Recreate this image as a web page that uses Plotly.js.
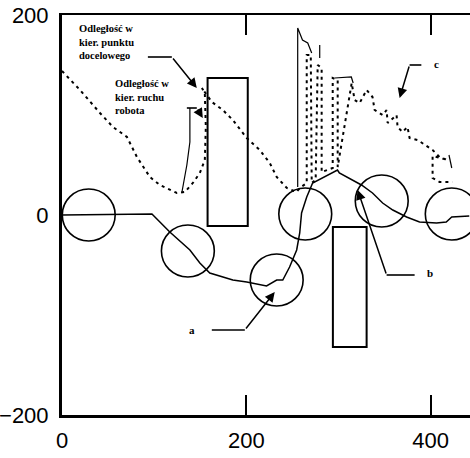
<!DOCTYPE html>
<html>
<head>
<meta charset="utf-8">
<script src="https://cdn.plot.ly/plotly-3.0.1.min.js"></script>
<style>html,body{margin:0;padding:0;background:#fff;}#chart{width:470px;height:458px;}</style>
</head>
<body>
<div id="chart"></div>
<script>
// Robot trajectory (solid)
const trajX = [0, 97.6, 117, 138.8, 149.6, 160.4, 185.4, 200.5, 222, 228.7, 233, 239.6, 247, 254.7, 258, 260, 265.6, 272, 283, 299, 301, 315.4, 325, 337, 348, 359, 374, 388, 406.5, 417, 423, 442];
const trajY = [0, 1, -17, -35, -48, -58, -65, -67, -71, -67, -65, -65, -52, -35, -18, 2, 18, 32, 37, 45, 42, 35, 30, 22, 12, 5, -2, -7, -8, -7, -2, -1];

// Distance towards target point (dotted)
const targetX = [0, 19.5, 41.2, 55.3, 70.5, 81.3, 95.4, 106.2, 124.7, 133.3, 142, 149.6, 155, 156.1, 155, 151.8, 162.6, 174.5, 185.4, 200.5, 214.6, 225.5, 233, 244,
  254.7, 258, 265.6, 265.6, 270, 271, 275.3, 277.5, 281.8, 281.8, 293.8, 293.8, 299.2, 299.2, 314.4, 317.6, 323, 330.6, 337, 339.3, 348, 352.3, 353.4, 363.1, 364.2, 369.6, 375, 377.2, 386, 393.5, 402.2, 409.8, 418.4, 402.2, 402.2, 409.8, 423.8];
const targetY = [144, 125, 102, 88, 78, 58, 38, 30, 22, 23, 32, 42, 55, 88, 122, 127, 113, 105, 95, 77, 65, 52, 38, 27,
  23, 27, 32, 160, 160, 32, 35, 150, 147, 43, 47, 137, 135, 48, 132, 115, 112, 125, 118, 105, 100, 105, 92, 100, 88, 83, 88, 77, 75, 70, 65, 58, 55, 59, 37, 33, 33];

// Distance in the direction of robot motion (thin solid, partly hidden)
const motionX = [130, 135.5, 138.8, 138.8, null, 255.8, 255.8, 261, 266.7, 271, null, 279.7, 279.7, null, 296, 314, 316, null, 420, 423];
const motionY = [22, 50, 73, 107, null, 28, 187, 175, 172, 162, null, 157, 170, null, 137, 138, 132, null, 60, 47];

// Robot positions (circles) and obstacles (rectangles)
const circleX = [29, 136.6, 233, 264, 347, 423];
const circleY = [0, -36, -65, 1, 14, 1];
const rectX0 = [158, 294];
const rectX1 = [201.6, 330.6];
const rectY0 = [137, -12];
const rectY1 = [-11, -132];

const xTickVals = [0, 200, 400];
const yTickVals = [-200, 0, 200];

const labelText = ['Odległość w<br>kier. punktu<br>docelowego', 'Odległość w<br>kier. ruchu<br>robota', 'a', 'b', 'c'];

const RX = 28.7, RY = 26;
const shapes = [];
circleX.forEach((cx, i) => {
  shapes.push({type: 'circle', xref: 'x', yref: 'y', x0: cx - RX, x1: cx + RX, y0: circleY[i] - RY, y1: circleY[i] + RY,
    line: {color: '#000', width: 1.6}});
});
rectX0.forEach((x0, i) => {
  shapes.push({type: 'rect', xref: 'x', yref: 'y', x0: x0, x1: rectX1[i], y0: rectY0[i], y1: rectY1[i],
    line: {color: '#000', width: 2}});
});

// callouts: label position, elbow start, elbow, tip
const lab = [
  {x: 16.3, y: 173, p0: [93.2, 158], p1: [119.2, 158], tip: [146.3, 127], left: true, size: 10.5},
  {x: 55.3, y: 118, p0: [135.5, 107], p1: [146.3, 107], tip: [152.8, 97], left: true, size: 10.5},
  {x: 141, y: -115, p0: [162.6, -115], p1: [198.4, -115], tip: [230.9, -77], size: 11},
  {x: 399, y: -58, p0: [382.7, -60], p1: [352.3, -60], tip: [320.9, 25], size: 11},
  {x: 406.5, y: 151, p0: [390, 150], p1: [377.2, 150], tip: [366.4, 117], size: 11}
];
const annotations = [];
lab.forEach((l, i) => {
  annotations.push({x: l.x, y: l.y, xref: 'x', yref: 'y', text: '<b>' + labelText[i] + '</b>', showarrow: false,
    xanchor: l.left ? 'left' : 'center', yanchor: 'middle', align: 'left',
    font: {family: 'Liberation Serif, serif', size: l.size, color: '#000'}});
  shapes.push({type: 'line', xref: 'x', yref: 'y', x0: l.p0[0], y0: l.p0[1], x1: l.p1[0], y1: l.p1[1], line: {color: '#000', width: 1.6}});
  annotations.push({x: l.tip[0], y: l.tip[1], ax: l.p1[0], ay: l.p1[1], axref: 'x', ayref: 'y', xref: 'x', yref: 'y',
    text: '', showarrow: true, arrowhead: 2, arrowsize: 1.3, arrowwidth: 1.5, arrowcolor: '#000'});
});

const data = [
  {x: targetX, y: targetY, mode: 'lines', line: {color: '#000', width: 2, dash: '3px,4px'}, hoverinfo: 'skip'},
  {x: motionX, y: motionY, mode: 'lines', line: {color: '#000', width: 1.2}, hoverinfo: 'skip', connectgaps: false},
  {x: trajX, y: trajY, mode: 'lines', line: {color: '#000', width: 1.5}, hoverinfo: 'skip'}
];

const layout = {
  width: 470, height: 458,
  margin: {l: 62, r: 0, t: 15, b: 43},
  paper_bgcolor: '#fff', plot_bgcolor: '#fff',
  showlegend: false,
  font: {family: 'Liberation Sans, Arial, sans-serif', color: '#000'},
  xaxis: {range: [0, 442.8], tickvals: xTickVals, ticktext: xTickVals.map(String), showgrid: false, zeroline: false,
    showline: true, linecolor: '#000', linewidth: 2.5, mirror: 'ticks', ticks: 'inside', ticklen: 20, tickwidth: 2, tickcolor: '#000',
    tickfont: {size: 22, color: '#000'}, ticklabelstandoff: 4, fixedrange: true},
  yaxis: {range: [-200, 200], tickvals: yTickVals, ticktext: ['\u2212200', '0', '200'], showgrid: false, zeroline: false,
    showline: true, linecolor: '#000', linewidth: 3, ticks: '', tickfont: {size: 22, color: '#000'}, ticklabelstandoff: 6, fixedrange: true},
  shapes: shapes,
  annotations: annotations
};

Plotly.newPlot('chart', data, layout, {staticPlot: true, displayModeBar: false});
</script>
</body>
</html>
